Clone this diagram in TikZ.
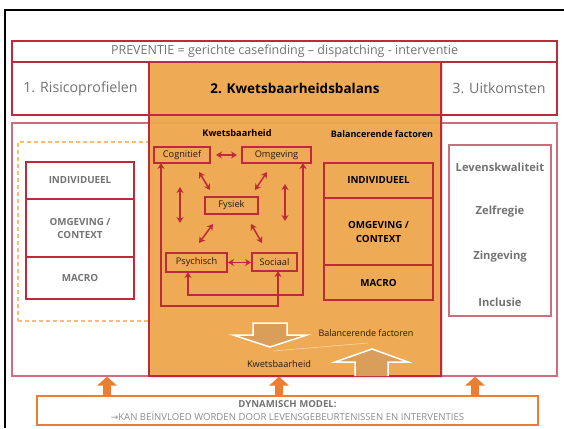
\documentclass[tikz,border=0pt]{standalone}
\usepackage{fontspec}
\setmainfont{Open Sans}
\newfontfamily\arrowfont{DejaVu Sans}
\usetikzlibrary{arrows.meta,shadows}

\definecolor{kbred}{RGB}{190,42,60}
\definecolor{kbpink}{RGB}{205,110,125}
\definecolor{kborange}{RGB}{240,167,74}
\definecolor{kbdeep}{RGB}{237,125,49}
\definecolor{kbdash}{RGB}{247,190,112}
\definecolor{kbgray}{RGB}{115,115,115}
\definecolor{kblight}{RGB}{140,140,140}
\definecolor{kbtan}{RGB}{216,158,90}
\definecolor{kbtext}{RGB}{40,25,15}

\tikzset{
  frame/.style={draw=kbred, line width=1.1pt, inner sep=0pt, outer sep=0pt},
  headcell/.style={frame, text=kbgray, font=\fontsize{14.2}{16}\selectfont},
  smallbox/.style={draw=kbred, line width=1.2pt, inner sep=0pt, outer sep=0pt,
    text=kbtext, font=\fontsize{9.2}{11}\selectfont},
  leftcell/.style={frame, minimum width=108pt, text=kbgray, align=center,
    font=\bfseries\fontsize{9.8}{13}\selectfont},
  rightcell/.style={frame, minimum width=109pt, text=black, align=center,
    font=\bfseries\fontsize{9.8}{14}\selectfont},
  outcome/.style={text=kbgray, font=\bfseries\fontsize{11.2}{13}\selectfont},
  link/.style={draw=kbred, line width=1.5pt, {Stealth[length=6pt,width=7pt]}-{Stealth[length=6pt,width=7pt]}},
  bigarrow/.style={fill=kbtan, draw=white, line width=1.5pt, line join=miter},
  pusharrow/.style={draw=kbdeep, line width=8pt, -{Triangle[length=9pt,width=19pt]}},
}

\begin{document}
\begin{tikzpicture}[x=1pt,y=-1pt]
\useasboundingbox (0,0) rectangle (564,428);
\fill[white] (0,0) rectangle (564,428);

% outer frame
\draw[black, line width=2pt] (5,428) -- (5,10) -- (564,10);

% banner
\node[frame, minimum width=545pt, minimum height=21pt, text=kbgray,
  font=\fontsize{12.5}{14}\selectfont] (prev) at (284.5,51.5)
  {PREVENTIE = gerichte casefinding -- dispatching - interventie};

% lower band holding the three columns
\node[draw=kbpink, line width=1.1pt, minimum width=545pt, minimum height=253pt,
  inner sep=0pt] (lower) at (284.5,249.5) {};

% risk profiles: dashed group
\node[draw=kbdash, line width=1.1pt, dash pattern=on 4pt off 3pt,
  minimum width=134pt, minimum height=179pt, inner sep=0pt] (dash) at (85,231.5) {};

% central column
\node[fill=kborange, fill opacity=0.93, draw=kbred, draw opacity=1, line width=1.1pt,
  minimum width=292pt, minimum height=314pt, inner sep=0pt,
  drop shadow={shadow xshift=1.5pt, shadow yshift=-1.5pt, opacity=0.25}]
  (kbcol) at (295,219) {};

% header row
\node[headcell, minimum width=137pt, minimum height=53pt] (risk) at (80.5,88.5) {1. Risicoprofielen};
\node[frame, minimum width=292pt, minimum height=53pt, text=black,
  font=\bfseries\fontsize{13.5}{15}\selectfont] (kbhead) at (295,88.5) {2. Kwetsbaarheidsbalans};
\node[headcell, minimum width=116pt, minimum height=53pt] (uit) at (499,88.5) {3. Uitkomsten};

% left stack
\node[leftcell, minimum height=37pt] (ind1) at (80,180.5) {INDIVIDUEEL};
\node[leftcell, minimum height=58pt] (ctx1) at (80,228) {OMGEVING /\\CONTEXT};
\node[leftcell, minimum height=42pt] (mac1) at (80,278) {MACRO};

% column titles
\node[text=black, font=\bfseries\fontsize{9.2}{11}\selectfont] (kwt) at (237,133) {Kwetsbaarheid};
\node[text=black, font=\bfseries\fontsize{9}{11}\selectfont] (bft) at (382,134) {Balancerende factoren};

% vulnerability domains
\node[smallbox, minimum width=56pt, minimum height=16pt] (cog) at (182,155) {Cognitief};
\node[smallbox, minimum width=69pt, minimum height=16pt] (omg) at (276.5,155) {Omgeving};
\node[smallbox, minimum width=53pt, minimum height=17pt] (fys) at (231.5,205.5) {Fysiek};
\node[smallbox, minimum width=61pt, minimum height=19pt] (psy) at (196.5,262.5) {Psychisch};
\node[smallbox, minimum width=45pt, minimum height=18pt] (soc) at (274.5,262) {Sociaal};

% links between the domains
\draw[link, shorten <=6pt, shorten >=5pt] (cog.east) -- (omg.west);
\draw[link, shorten <=1pt, shorten >=1pt] (psy.east) -- (soc.west |- psy.east);
\draw[link, shorten <=24pt, shorten >=30pt] ([xshift=26pt]cog.south west) -- ([xshift=26pt]cog.south west |- psy.north);
\draw[link, shorten <=21pt, shorten >=32pt] ([xshift=43pt]omg.south west) -- ([xshift=43pt]omg.south west |- soc.north);
\draw[link] ([xshift=-11pt,yshift=-9pt]cog.south east) -- ([xshift=5pt,yshift=7pt]fys.north west);
\draw[link] ([xshift=25pt,yshift=-9pt]omg.south west) -- ([xshift=-3pt,yshift=7pt]fys.north east);
\draw[link] ([xshift=8pt,yshift=-10pt]fys.south west) -- ([xshift=2.5pt,yshift=10pt]psy.north);
\draw[link] ([xshift=-7pt,yshift=-10pt]fys.south east) -- ([xshift=-12.5pt,yshift=10pt]soc.north);
\draw[link] ([xshift=7pt]cog.south west) -- ++(0,143) -| ([xshift=3.5pt]soc.south);
\draw[link] ([xshift=-8.5pt]psy.south) -- ++(0,23) -| ([xshift=-8pt]omg.south east);

% balancing factors stack
\node[rightcell, minimum height=35pt] (ind2) at (378.5,180.5) {INDIVIDUEEL};
\node[rightcell, minimum height=67pt] (ctx2) at (378.5,231.5) {OMGEVING /\\CONTEXT};
\node[rightcell, minimum height=35pt] (mac2) at (378.5,282.5) {MACRO};

% balance arrows
\draw[bigarrow] (253,323) -- (287,323) -- (287,335) -- (307,335) -- (270,347)
  -- (233,335) -- (253,335) -- cycle;
\draw[bigarrow] (355,376) -- (355,362) -- (335,362) -- (372,349) -- (408,362)
  -- (388,362) -- (388,376);
\draw[draw=kbdash!60!white, line width=0.6pt] (273,351) -- (368,343);
\node[text=kbtext, font=\fontsize{9}{11}\selectfont] (bfl) at (366,333) {Balancerende factoren};
\node[text=kbtext, font=\fontsize{9.2}{11}\selectfont] (kwl) at (279,364) {Kwetsbaarheid};

% outcomes
\node[draw=kbpink, line width=1.1pt, minimum width=102pt, minimum height=171pt,
  inner sep=0pt] (outc) at (500,230.5) {};
\node[outcome] (o1) at (500,167) {Levenskwaliteit};
\node[outcome] (o2) at (500,212) {Zelfregie};
\node[outcome] (o3) at (500,257) {Zingeving};
\node[outcome] (o4) at (500,302) {Inclusie};

% dynamic model
\node[draw=kbdeep, line width=2pt, minimum width=501pt, minimum height=29pt,
  inner sep=0pt, align=center, text=kblight, font=\fontsize{9.6}{12.5}\selectfont]
  (dyn) at (287.5,410.5)
  {{\bfseries\color{kbgray}DYNAMISCH MODEL:}\\{\arrowfont\fontsize{9}{12.5}\selectfont →}KAN BEÏNVLOED WORDEN DOOR LEVENSGEBEURTENISSEN EN INTERVENTIES};

\draw[pusharrow] ([xshift=71pt]dyn.north west) -- ([xshift=71pt]dyn.north west |- lower.south);
\draw[pusharrow] ([xshift=243pt]dyn.north west) -- ([xshift=243pt]dyn.north west |- lower.south);
\draw[pusharrow] ([xshift=439pt]dyn.north west) -- ([xshift=439pt]dyn.north west |- lower.south);
\end{tikzpicture}
\end{document}
